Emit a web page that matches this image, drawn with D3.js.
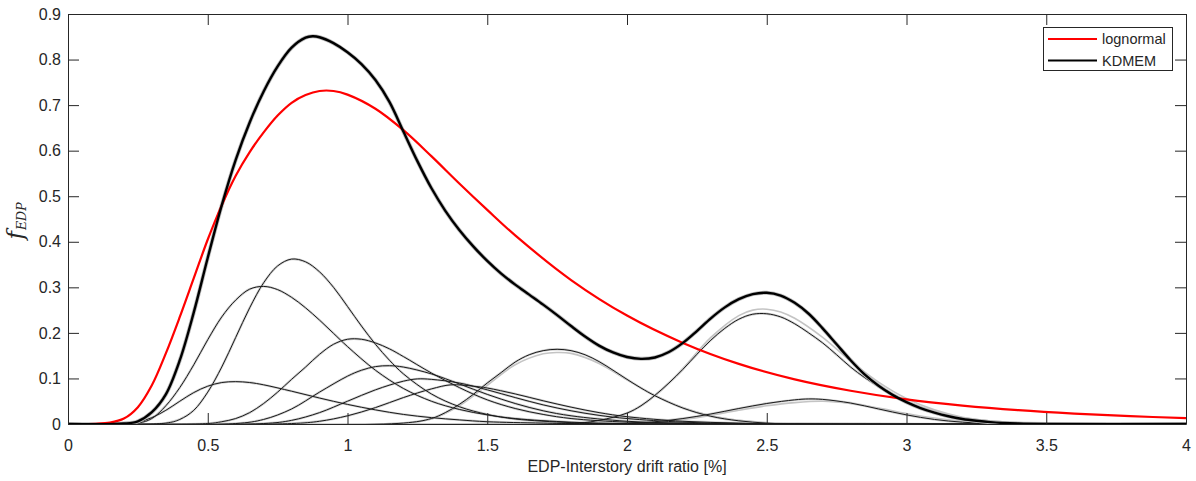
<!DOCTYPE html>
<html><head><meta charset="utf-8">
<script src="https://cdn.jsdelivr.net/npm/d3@7"></script>
<style>
body{margin:0;background:#fff;}
text{font-family:"Liberation Sans",Arial,sans-serif;fill:#262626;}
</style></head>
<body><svg id="c" width="1196" height="481"></svg>
<script>
// ---- data ----
const xTicks = [0,0.5,1,1.5,2,2.5,3,3.5,4];
const yTicks = [0,0.1,0.2,0.3,0.4,0.5,0.6,0.7,0.8,0.9];
const xTickLabels = ["0","0.5","1","1.5","2","2.5","3","3.5","4"];
const yTickLabels = ["0","0.1","0.2","0.3","0.4","0.5","0.6","0.7","0.8","0.9"];
const legendNames = ["lognormal","KDMEM"];

const lognormal = [[0,0],[0.1,0.0005],[0.15,0.003],[0.2,0.012],[0.25,0.037],[0.3,0.085],[0.35,0.155],[0.4,0.235],[0.45,0.32],[0.5,0.405],[0.55,0.48],[0.6,0.545],[0.65,0.597],[0.7,0.64],[0.75,0.677],[0.8,0.705],[0.85,0.722],[0.9,0.731],[0.95,0.731],[1.0,0.723],[1.1,0.692],[1.2,0.645],[1.3,0.588],[1.4,0.528],[1.5,0.47],[1.6,0.414],[1.8,0.316],[2.0,0.238],[2.2,0.178],[2.4,0.132],[2.6,0.098],[2.8,0.073],[3.0,0.054],[3.2,0.0405],[3.4,0.0303],[3.6,0.0228],[3.8,0.0172],[4.0,0.0131]];

const kdmem = [[0,0],[0.2,0.001],[0.25,0.006],[0.3,0.026],[0.35,0.065],[0.4,0.14],[0.45,0.245],[0.5,0.365],[0.55,0.48],[0.6,0.58],[0.65,0.662],[0.7,0.73],[0.75,0.785],[0.8,0.826],[0.85,0.848],[0.875,0.851],[0.9,0.849],[0.95,0.836],[1.0,0.816],[1.05,0.79],[1.1,0.755],[1.15,0.707],[1.2,0.642],[1.25,0.577],[1.3,0.518],[1.35,0.468],[1.4,0.426],[1.45,0.39],[1.5,0.358],[1.55,0.33],[1.6,0.306],[1.65,0.284],[1.7,0.262],[1.75,0.239],[1.8,0.215],[1.85,0.192],[1.9,0.172],[1.95,0.157],[2.0,0.147],[2.05,0.143],[2.1,0.146],[2.15,0.158],[2.2,0.178],[2.25,0.204],[2.3,0.232],[2.35,0.256],[2.4,0.274],[2.45,0.285],[2.5,0.288],[2.55,0.282],[2.6,0.266],[2.65,0.242],[2.7,0.21],[2.75,0.175],[2.8,0.14],[2.85,0.109],[2.9,0.084],[2.95,0.064],[3.0,0.048],[3.05,0.035],[3.1,0.025],[3.15,0.017],[3.2,0.011],[3.25,0.007],[3.3,0.004],[3.4,0.001],[3.5,0],[4.0,0]];

const comp1 = [[0,0],[0.2,0],[0.25,0.004],[0.3,0.014],[0.35,0.03],[0.4,0.05],[0.45,0.069],[0.5,0.083],[0.55,0.091],[0.6,0.093],[0.65,0.091],[0.7,0.086],[0.8,0.072],[0.9,0.057],[1.0,0.043],[1.1,0.031],[1.2,0.021],[1.3,0.014],[1.4,0.009],[1.5,0.005],[1.7,0.002],[2.0,0],[4.0,0]];
const comp2 = [[0,0],[0.25,0.002],[0.3,0.012],[0.35,0.04],[0.4,0.08],[0.45,0.13],[0.5,0.185],[0.55,0.235],[0.6,0.272],[0.65,0.296],[0.7,0.302],[0.75,0.295],[0.8,0.278],[0.85,0.255],[0.9,0.228],[0.95,0.199],[1.0,0.17],[1.1,0.118],[1.2,0.078],[1.3,0.05],[1.4,0.032],[1.5,0.02],[1.6,0.012],[1.8,0.004],[2.0,0.001],[2.3,0],[4.0,0]];
const comp3 = [[0,0],[0.35,0.002],[0.4,0.01],[0.45,0.03],[0.5,0.07],[0.55,0.125],[0.6,0.19],[0.65,0.255],[0.7,0.31],[0.75,0.347],[0.8,0.362],[0.85,0.356],[0.9,0.334],[0.95,0.3],[1.0,0.258],[1.05,0.215],[1.1,0.175],[1.15,0.14],[1.2,0.11],[1.3,0.066],[1.4,0.038],[1.5,0.021],[1.6,0.011],[1.8,0.003],[2.0,0],[4.0,0]];
const comp4 = [[0,0],[0.5,0.001],[0.55,0.005],[0.6,0.012],[0.65,0.025],[0.7,0.045],[0.75,0.07],[0.8,0.098],[0.85,0.125],[0.9,0.153],[0.95,0.175],[1.0,0.186],[1.05,0.186],[1.1,0.178],[1.15,0.165],[1.2,0.148],[1.3,0.112],[1.4,0.08],[1.5,0.053],[1.6,0.034],[1.7,0.021],[1.8,0.012],[2.0,0.004],[2.2,0.001],[2.4,0],[4.0,0]];
const comp5 = [[0,0],[0.6,0.001],[0.7,0.01],[0.8,0.033],[0.9,0.07],[1.0,0.105],[1.05,0.118],[1.1,0.126],[1.15,0.128],[1.2,0.125],[1.3,0.11],[1.4,0.088],[1.5,0.065],[1.6,0.045],[1.7,0.029],[1.8,0.018],[2.0,0.006],[2.2,0.002],[2.4,0],[4.0,0]];
const comp6 = [[0,0],[0.7,0.001],[0.8,0.008],[0.9,0.025],[1.0,0.05],[1.1,0.075],[1.2,0.094],[1.25,0.099],[1.3,0.098],[1.4,0.09],[1.5,0.075],[1.6,0.058],[1.7,0.042],[1.8,0.029],[1.9,0.019],[2.0,0.012],[2.2,0.004],[2.4,0.001],[2.6,0],[4.0,0]];
const comp7 = [[0,0],[0.8,0.001],[0.9,0.006],[1.0,0.018],[1.1,0.036],[1.2,0.058],[1.3,0.077],[1.37,0.086],[1.45,0.083],[1.5,0.079],[1.6,0.066],[1.7,0.051],[1.8,0.037],[1.9,0.025],[2.0,0.016],[2.2,0.006],[2.4,0.002],[2.6,0],[4.0,0]];
const comp8 = [[0,0],[1.2,0.002],[1.3,0.012],[1.35,0.025],[1.4,0.043],[1.45,0.065],[1.5,0.09],[1.55,0.113],[1.6,0.136],[1.65,0.152],[1.7,0.161],[1.75,0.164],[1.8,0.161],[1.85,0.152],[1.9,0.137],[1.95,0.118],[2.0,0.098],[2.05,0.079],[2.1,0.062],[2.2,0.035],[2.3,0.017],[2.4,0.007],[2.5,0.002],[2.6,0],[4.0,0]];
const comp9 = [[0,0],[1.8,0.001],[1.9,0.008],[2.0,0.024],[2.05,0.04],[2.1,0.063],[2.15,0.09],[2.2,0.12],[2.25,0.153],[2.3,0.184],[2.35,0.21],[2.4,0.23],[2.45,0.241],[2.5,0.242],[2.55,0.235],[2.6,0.22],[2.65,0.2],[2.7,0.178],[2.75,0.152],[2.8,0.125],[2.85,0.102],[2.9,0.082],[2.95,0.064],[3.0,0.049],[3.1,0.027],[3.2,0.013],[3.3,0.006],[3.4,0.002],[3.5,0],[4.0,0]];
const comp10 = [[0,0],[2.0,0.001],[2.1,0.005],[2.2,0.012],[2.3,0.022],[2.4,0.034],[2.5,0.045],[2.6,0.053],[2.65,0.055],[2.7,0.054],[2.8,0.046],[2.9,0.033],[3.0,0.02],[3.1,0.01],[3.2,0.004],[3.3,0.001],[3.4,0],[4.0,0]];

// light grey companions (second estimate drawn underneath)
const comp8Grey = [[0,0],[1.2,0.002],[1.3,0.011],[1.4,0.04],[1.5,0.085],[1.6,0.13],[1.7,0.154],[1.75,0.157],[1.8,0.155],[1.9,0.133],[2.0,0.097],[2.1,0.063],[2.2,0.036],[2.3,0.018],[2.4,0.008],[2.5,0.003],[2.6,0],[4.0,0]];
const comp9Grey = [[0,0],[1.8,0.001],[1.9,0.007],[2.0,0.023],[2.1,0.062],[2.2,0.122],[2.3,0.19],[2.4,0.238],[2.45,0.25],[2.5,0.252],[2.55,0.246],[2.6,0.232],[2.7,0.19],[2.8,0.138],[2.9,0.092],[3.0,0.056],[3.1,0.031],[3.2,0.015],[3.3,0.007],[3.4,0.002],[3.5,0],[4.0,0]];
const comp10Grey = [[0,0],[2.0,0.001],[2.1,0.004],[2.2,0.01],[2.3,0.019],[2.4,0.03],[2.5,0.04],[2.6,0.047],[2.7,0.05],[2.8,0.045],[2.9,0.035],[3.0,0.023],[3.1,0.013],[3.2,0.006],[3.3,0.002],[3.5,0],[4.0,0]];

const components = [comp1,comp2,comp3,comp4,comp5,comp6,comp7,comp8,comp9,comp10];
const greyComponents = [comp8Grey,comp9Grey,comp10Grey];

// ---- drawing ----
const svg = d3.select("#c");
const L = 68, R = 1186, T = 14, B = 424;
const x = d3.scaleLinear().domain([0,4]).range([L,R]);
const y = d3.scaleLinear().domain([0,0.9]).range([B,T]);
const axisCol = "#262626";

svg.append("defs").append("clipPath").attr("id","clip")
  .append("rect").attr("x",L).attr("y",T).attr("width",R-L).attr("height",B-T);

const line = d3.line().x(d=>x(d[0])).y(d=>y(Math.max(0,d[1]))).curve(d3.curveCatmullRom.alpha(0.5));
const g = svg.append("g").attr("clip-path","url(#clip)");

// grey halos / companions
components.forEach(c=>{
  g.append("path").attr("d",line(c)).attr("fill","none")
   .attr("stroke","#cfcfcf").attr("stroke-width",2.4);
});
greyComponents.forEach(c=>{
  g.append("path").attr("d",line(c)).attr("fill","none")
   .attr("stroke","#c4c4c4").attr("stroke-width",1.6);
});
components.forEach(c=>{
  g.append("path").attr("d",line(c)).attr("fill","none")
   .attr("stroke","#1a1a1a").attr("stroke-width",1);
});
g.append("path").attr("d",line(kdmem)).attr("fill","none")
  .attr("stroke","#bdbdbd").attr("stroke-width",4);
g.append("path").attr("d",line(lognormal)).attr("fill","none")
  .attr("stroke","#ff0000").attr("stroke-width",2.2);
g.append("path").attr("d",line(kdmem)).attr("fill","none")
  .attr("stroke","#000").attr("stroke-width",2.4);

// axes (MATLAB-like box with inward ticks)
const xAxisB = d3.axisBottom(x).tickValues(xTicks).tickFormat((d,i)=>xTickLabels[i]).tickSizeInner(-11).tickSizeOuter(0).tickPadding(16);
const xAxisT = d3.axisTop(x).tickValues(xTicks).tickFormat("").tickSizeInner(-11).tickSizeOuter(0);
const yAxisL = d3.axisLeft(y).tickValues(yTicks).tickFormat((d,i)=>yTickLabels[i]).tickSizeInner(-11).tickSizeOuter(0).tickPadding(7);
const yAxisR = d3.axisRight(y).tickValues(yTicks).tickFormat("").tickSizeInner(-11).tickSizeOuter(0);

function style(sel){
  sel.selectAll("path.domain").attr("stroke",axisCol).attr("stroke-width",1);
  sel.selectAll(".tick line").attr("stroke",axisCol).attr("stroke-width",1);
  sel.selectAll("text").attr("font-family","'Liberation Sans',Arial,sans-serif").attr("font-size",16).attr("fill",axisCol);
}
svg.append("g").attr("transform",`translate(0,${B})`).call(xAxisB).call(style);
svg.append("g").attr("transform",`translate(0,${T})`).call(xAxisT).call(style);
svg.append("g").attr("transform",`translate(${L},0)`).call(yAxisL).call(style);
svg.append("g").attr("transform",`translate(${R},0)`).call(yAxisR).call(style);

// x label
svg.append("text").attr("x",(L+R)/2).attr("y",472).attr("text-anchor","middle")
  .attr("font-size",16).text("EDP-Interstory drift ratio [%]");

// y label f_EDP
const yl = svg.append("text").attr("transform","translate(23,221) rotate(-90)")
  .attr("text-anchor","middle")
  .style("font-family","'DejaVu Serif','Liberation Serif',serif").style("font-style","italic");
yl.append("tspan").attr("font-size",23).text("f");
yl.append("tspan").attr("font-size",12.5).attr("dy",2.5).attr("dx",1).text("EDP");

// legend
const lg = svg.append("g");
lg.append("rect").attr("x",1043.5).attr("y",27.5).attr("width",129).attr("height",43)
  .attr("fill","#fff").attr("stroke","#262626").attr("stroke-width",1);
const legCols = ["#ff0000","#000000"];
legendNames.forEach((n,i)=>{
  const yy = 39 + i*21.5;
  lg.append("line").attr("x1",1048).attr("x2",1097).attr("y1",yy).attr("y2",yy)
    .attr("stroke",legCols[i]).attr("stroke-width",2.2);
  lg.append("text").attr("x",1102).attr("y",yy+5).attr("font-size",14.5).attr("fill","#000").text(n);
});
</script></body></html>
